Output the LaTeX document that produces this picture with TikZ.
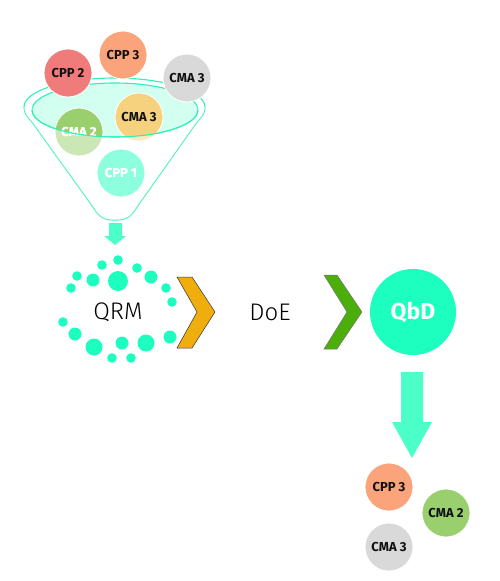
\documentclass[tikz,border=0pt]{standalone}
\usepackage{fontspec}
\setmainfont{Fira Sans}
\newfontfamily\lightfont{Fira Sans}[UprightFont={* Light}]
\definecolor{cppred}{HTML}{EF7B7B}
\definecolor{cppsalmon}{HTML}{FBA47C}
\definecolor{cmagray}{HTML}{D9D9D9}
\definecolor{cmayellow}{HTML}{F6D27E}
\definecolor{cmagreen}{HTML}{99CF6D}
\definecolor{aqua}{HTML}{1CFFBF}
\definecolor{aqualine}{HTML}{2CF0B6}
\definecolor{rimfill}{HTML}{D2FFF0}
\definecolor{arrowaqua}{HTML}{4CFFC8}
\definecolor{chevorange}{HTML}{F0AE0E}
\definecolor{chevgreen}{HTML}{4BAE0B}
\definecolor{inktext}{HTML}{111111}
\begin{document}
\begin{tikzpicture}[x=1pt,y=-1pt,
  ballfont/.style={font=\fontsize{13}{13}\selectfont\bfseries},
  ball/.style={circle, minimum size=48pt, inner sep=0pt, fill=#1, draw=white, line width=0.8pt,
    ballfont, text=inktext},
  funnelline/.style={draw=aqualine, line width=1.1pt},
  blockarrow/.style={fill=arrowaqua},
  bigword/.style={font=\lightfont\fontsize{24}{24}\selectfont, text=black, inner sep=0pt}]
\useasboundingbox (0,0) rectangle (500,581);

% funnel outline
\draw[funnelline] (24,107) .. controls (24,113) and (27,117) .. (32,122) -- (93,207)
  .. controls (100,219) and (106,220) .. (115,220) .. controls (124,220) and (130,219) .. (137,207)
  -- (197,122) .. controls (202,117) and (205,113) .. (205,107)
  arc[start angle=0, end angle=-180, x radius=90.5, y radius=29];
% rim
\draw[funnelline, fill=rimfill] (115,110) ellipse[x radius=83, y radius=27];

% balls in and above the funnel
\node[ball=cppsalmon] (cpp3a) at (123,55) {CPP 3};
\node[ball=cppred] (cpp2a) at (68,73) {CPP 2};
\node[ball=cmagray] (cma3a) at (187,78) {CMA 3};
\node[ball=cmayellow] (cma3b) at (139,117) {CMA 3};
\node[ball=cmagreen, text=white] (cma2a) at (79,132) {CMA 2};
\node[ball=aqua, text=white] (cpp1a) at (121,173) {CPP 1};

% translucent funnel body
\begin{scope}
  \clip (24,107) .. controls (24,113) and (27,117) .. (32,122) -- (93,207)
  .. controls (100,219) and (106,220) .. (115,220) .. controls (124,220) and (130,219) .. (137,207)
  -- (197,122) .. controls (202,117) and (205,113) .. (205,107) -- cycle;
  \fill[white, opacity=0.5, even odd rule] (0,60) rectangle (250,230)
    (115,110) ellipse[x radius=83, y radius=27];
\end{scope}
\node[text=white, ballfont] at (cma2a) {CMA 2};
\node[text=white, ballfont] at (cpp1a) {CPP 1};
\begin{scope}
  \clip (0,110) rectangle (250,150);
  \draw[funnelline] (115,110) ellipse[x radius=83, y radius=27];
\end{scope}

% small arrow below funnel
\fill[blockarrow] (109,223) -- (122,223) -- (122,236) -- (126,236) -- (115,245) -- (104,236) -- (109,236) -- cycle;

% QRM dots
\foreach \px/\py/\r in {118/281/10, 93/280/6.5, 102/265/4.8, 118/260/4.8, 137/268/4.8, 151/277/6.5,
  166/288/4.8, 172/302/4.8, 77/276/4.8, 71/288/4.8, 63/322/4.8, 75/334/6.5, 94/347/8.5,
  112/358/4.8, 122/343/6.5, 131/358/4.8, 146/343/8.5, 170/337/6.5}
  \fill[aqua] (\px,\py) circle[radius=\r];
\node[bigword] (qrm) at (118,312) {QRM};

% chevrons
\draw[fill=chevorange, draw=black!80, line width=0.5pt] (177,277) -- (192,277) -- (215,312) -- (192,348) -- (177,348) -- (197,312) -- cycle;
\node[bigword] (doe) at (270,312) {DoE};
\draw[fill=chevgreen, draw=black!55, line width=0.5pt] (324,275) -- (337,275) -- (362,312) -- (337,349) -- (324,349) -- (347,312) -- cycle;

% QbD
\node[circle, minimum size=86pt, inner sep=0pt, fill=aqua, text=white,
  font=\fontsize{23}{23}\selectfont\bfseries] (qbd) at (413,312) {QbD};

% big arrow
\fill[blockarrow] (401,372) -- (423,372) -- (423,422) -- (432,422) -- (412,458) -- (392,422) -- (401,422) -- cycle;

% result balls
\node[ball=cppsalmon] (cpp3b) at (389,487) {CPP 3};
\node[ball=cmagreen] (cma2b) at (446,513) {CMA 2};
\node[ball=cmagray] (cma3c) at (389,547) {CMA 3};
\end{tikzpicture}
\end{document}
